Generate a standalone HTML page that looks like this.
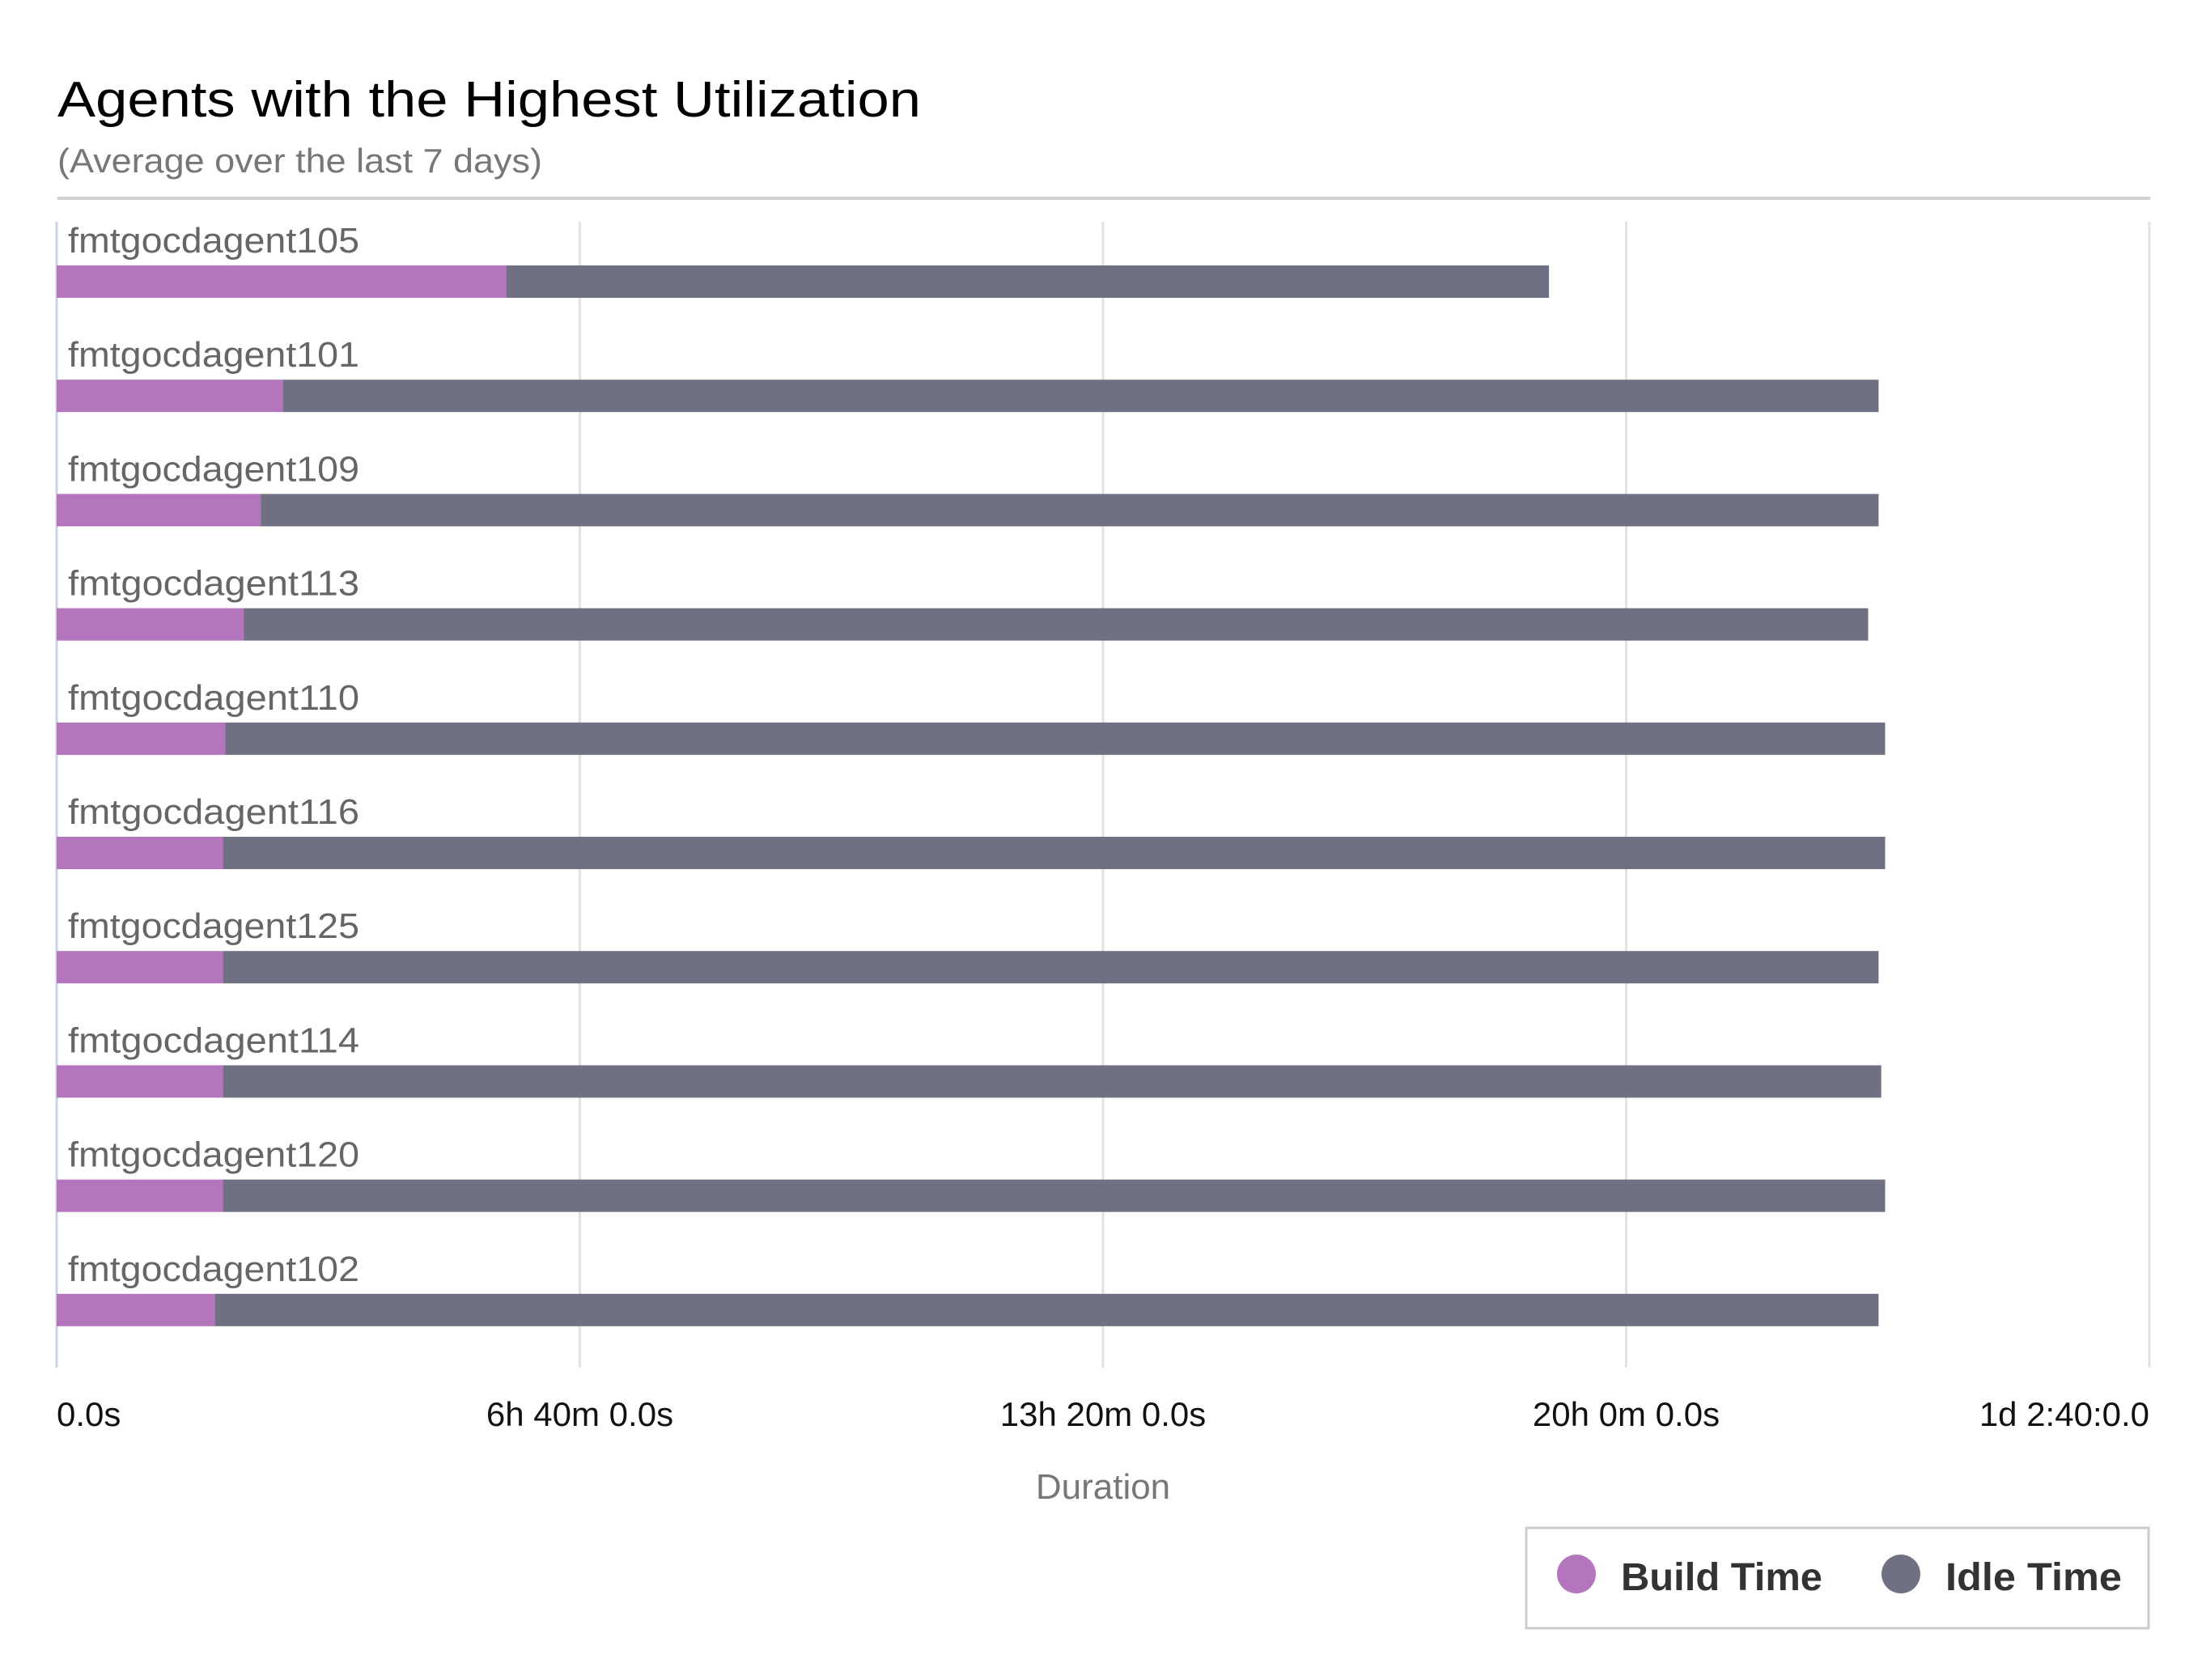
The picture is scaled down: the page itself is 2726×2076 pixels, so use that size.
<!DOCTYPE html>
<html><head><meta charset="utf-8"><style>
html,body{margin:0;padding:0;background:#fff;}
svg{display:block;font-family:"Liberation Sans",sans-serif;}
</style></head><body>
<svg id="chart" width="2726" height="2076" viewBox="0 0 2726 2076" xmlns="http://www.w3.org/2000/svg">
<text x="71" y="144" font-size="62" fill="#000" textLength="1067" lengthAdjust="spacingAndGlyphs">Agents with the Highest Utilization</text>
<text x="71" y="213" font-size="42" fill="#777" textLength="599" lengthAdjust="spacingAndGlyphs">(Average over the last 7 days)</text>
<rect x="71" y="243" width="2586" height="4" fill="#d0d0d0"/>
<g id="grid"></g>
<g id="bars"></g>
<g id="ticks"></g>
<text x="1363" y="1852" font-size="44" fill="#777" text-anchor="middle">Duration</text>
<g>
<rect x="1886" y="1888" width="769" height="124" fill="#fff" stroke="#ccc" stroke-width="3"/>
<g>
<ellipse cx="1948" cy="1945" rx="24" ry="24" fill="#b375bb"/>
<text x="2003" y="1965" font-size="48" font-weight="bold" fill="#333" textLength="249" lengthAdjust="spacingAndGlyphs">Build Time</text>
</g>
<g>
<ellipse cx="2349" cy="1945" rx="24" ry="24" fill="#6f7082"/>
<text x="2404" y="1965" font-size="48" font-weight="bold" fill="#333" textLength="218" lengthAdjust="spacingAndGlyphs">Idle Time</text>
</g>
</g>
</svg>
<script>
const agents = ["fmtgocdagent105","fmtgocdagent101","fmtgocdagent109","fmtgocdagent113","fmtgocdagent110","fmtgocdagent116","fmtgocdagent125","fmtgocdagent114","fmtgocdagent120","fmtgocdagent102"];
const buildMinutes = [344,173,156,143,129,127,127,127,127,121];
const idleMinutes = [797,1220,1237,1242,1269,1271,1266,1268,1271,1272];
const tickValues = [0,400,800,1200,1600];
const tickLabels = ["0.0s","6h 40m 0.0s","13h 20m 0.0s","20h 0m 0.0s","1d 2:40:0.0"];

const NS = "http://www.w3.org/2000/svg";
const X0 = 70, W = 2586, MAXV = 1600;
const TOP = 274, BOTTOM = 1690, ROW0 = 328, PITCH = 141.2, BH = 40;
function xScale(v){ return X0 + v / MAXV * W; }
function mk(tag, attrs, parent){ const e = document.createElementNS(NS, tag); for (const k in attrs) e.setAttribute(k, attrs[k]); parent.appendChild(e); return e; }

const grid = document.getElementById("grid");
const ticks = document.getElementById("ticks");
tickValues.forEach((v, i) => {
  const x = xScale(v);
  const ln = mk("line", {x1:x, x2:x, y1:TOP, y2:BOTTOM, stroke: i === 0 ? "#c8d4e6" : "#e2e2e2", "stroke-width":3}, grid);
  
  
  const anchor = i === 0 ? "start" : (i === tickValues.length - 1 ? "end" : "middle");
  const t = mk("text", {x:x, y:1762, "font-size":42, fill:"#111", "text-anchor":anchor}, ticks);
  t.textContent = tickLabels[i];
  
  
});

const bars = document.getElementById("bars");
agents.forEach((name, i) => {
  const y = ROW0 + i * PITCH;
  const lbl = mk("text", {x:84, y:y - 16, "font-size":44, fill:"#666", textLength:360, lengthAdjust:"spacingAndGlyphs"}, bars);
  lbl.textContent = name;
  
  
  const b = buildMinutes[i], idle = idleMinutes[i];
  const rb = mk("rect", {x:xScale(0), y:y, width:xScale(b) - xScale(0), height:BH, fill:"#b375bb"}, bars);
  
  
  const ri = mk("rect", {x:xScale(b), y:y, width:xScale(b + idle) - xScale(b), height:BH, fill:"#6f7082"}, bars);
  
  
});
</script>
</body></html>
